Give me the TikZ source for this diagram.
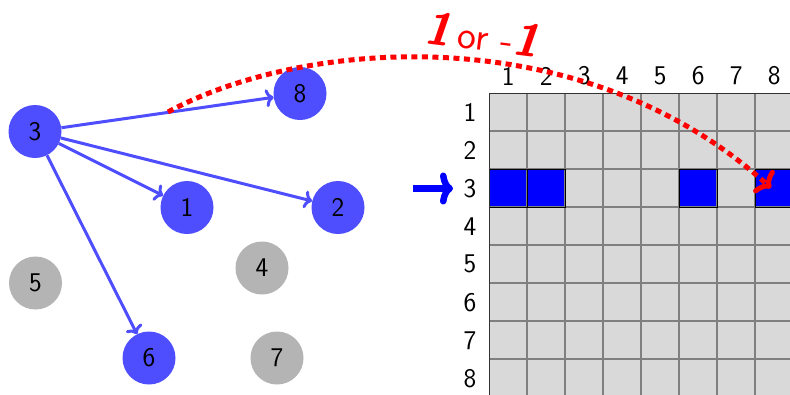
\documentclass[tikz,border=0pt]{standalone}
\usepackage{fontspec}
\usetikzlibrary{arrows.meta}
\definecolor{nodeblue}{RGB}{78,78,255}
\definecolor{nodegray}{RGB}{180,180,180}
\definecolor{cellgray}{RGB}{217,217,217}
\definecolor{linegray}{RGB}{128,128,128}
\begin{document}
\begin{tikzpicture}[x=1pt,y=-1pt,
  font=\sffamily\fontsize{27}{27}\selectfont,
  vertex/.style={circle,minimum size=53pt,inner sep=0pt},
  active/.style={vertex,fill=nodeblue},
  idle/.style={vertex,fill=nodegray},
  edge/.style={nodeblue,line width=3pt,-{Computer Modern Rightarrow[length=8pt,width=18pt]}},
  lbl/.style={inner sep=0pt}
]
\clip (0,0) rectangle (790,394);
\fill[white] (0,0) rectangle (790,394);
% graph nodes
\node[active] (n3) at (35,131.5) {3};
\node[active] (n8) at (300,93.5) {8};
\node[active] (n1) at (187,207.5) {1};
\node[active] (n2) at (338,207.5) {2};
\node[idle]   (n5) at (35.5,283) {5};
\node[idle]   (n4) at (262,268) {4};
\node[active] (n6) at (149,358) {6};
\node[idle]   (n7) at (277,358) {7};
\draw[edge] (n3) -- (n8);
\draw[edge] (n3) -- (n1);
\draw[edge] (n3) -- (n2);
\draw[edge] (n3) -- (n6);
% matrix
\fill[cellgray] (489.3,93.3) rectangle (800,400);
\foreach \c in {1,2,6,8}{
  \fill[blue] ({489.3+38*(\c-1)},169.3) rectangle ++(38,38);
}
\foreach \i in {1,...,8}{
  \draw[linegray,line width=2pt] ({489.3+38*\i},93.3) -- ({489.3+38*\i},400);
  \draw[linegray,line width=2pt] (489.3,{93.3+38*\i}) -- (800,{93.3+38*\i});
  \node[lbl] (c\i) at ({508.3+38*(\i-1)},76) {\i};
  \node[lbl] (r\i) at (470,{112.3+38*(\i-1)}) {\i};
}
\foreach \c in {1,2,6,8}{
  \draw[black,line width=1.2pt] ({489.3+38*(\c-1)},169.3) rectangle ++(38,38);
}
\draw[black!80,line width=1.6pt] (489.3,400) -- (489.3,93.3) -- (800,93.3);
% blue pointer arrow
\coordinate (ps) at (413,188.5);
\coordinate (pe) at (453,188.5);
\draw[blue,line width=6.5pt,-{Computer Modern Rightarrow[length=13pt,width=32pt,line cap=round]}] (ps) -- (pe);
% red dotted arrow
\coordinate (rs) at (168,112);
\coordinate (re) at (771,188);
\draw[red,line width=5pt,dash pattern=on 6pt off 4.5pt,-{Computer Modern Rightarrow[length=12pt,width=30pt,line cap=round]}]
  (rs) .. controls (300,40) and (580,15) .. (re);
\node[red,lbl,rotate=-7] (lab) at (482,34)
  {{\fontsize{46}{46}\selectfont\bfseries\itshape 1} {\fontsize{40}{40}\selectfont or -{\fontsize{46}{46}\selectfont\bfseries\itshape 1}}};
\end{tikzpicture}
\end{document}
